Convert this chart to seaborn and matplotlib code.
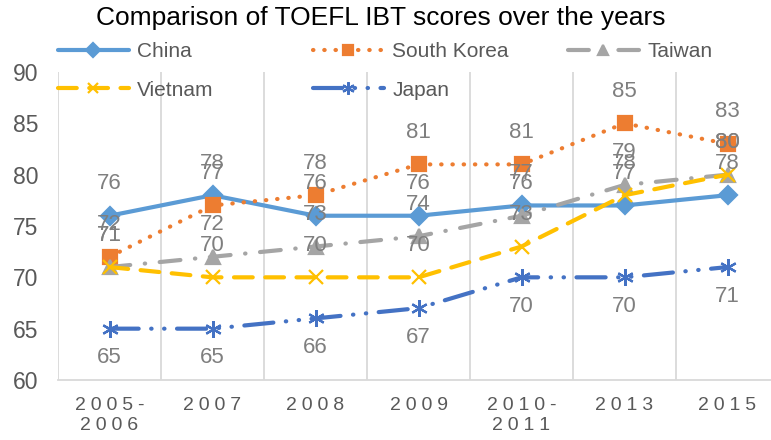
import numpy as np
import pandas as pd
import matplotlib
matplotlib.use("Agg")
import matplotlib.pyplot as plt
import seaborn as sns

# data
years = ["2005-\n2006", "2007", "2008", "2009", "2010-\n2011", "2013", "2015"]
china = [76, 78, 76, 76, 77, 77, 78]
south_korea = [72, 77, 78, 81, 81, 85, 83]
taiwan = [71, 72, 73, 74, 76, 79, 80]
vietnam = [71, 70, 70, 70, 73, 78, 80]
japan = [65, 65, 66, 67, 70, 70, 71]

sns.set_theme(style="white")
plt.rcParams["font.family"] = ["Liberation Sans", "DejaVu Sans"]

pos = np.arange(len(years))

# name, values, color, marker, markersize, linestyle, label offset (pt)
series = [
    ("China", china, "#5B9BD5", "D", 9, "-", 23),
    ("South Korea", south_korea, "#ED7D31", "s", 10, (0, (0.1, 2.6)), 23),
    ("Taiwan", taiwan, "#A5A5A5", "^", 10, (0, (5, 3.5, 0.1, 3.5)), 23),
    ("Vietnam", vietnam, "#FFC000", "x", 10, (0, (4.5, 3)), 23),
    ("Japan", japan, "#4472C4", (6, 2, 0), 12, (0, (7, 3, 0.1, 3, 0.1, 3)), -21),
]

fig = plt.figure(figsize=(7.71, 4.40), dpi=100)
ax = fig.add_axes([58 / 771, 1 - 380 / 440, 721 / 771, 308 / 440])

handles = {}
for name, vals, color, marker, ms, ls, off in series:
    sns.lineplot(x=pos, y=vals, ax=ax, color=color, linewidth=3, linestyle=ls,
                 marker=marker, markersize=ms, markeredgecolor=color,
                 markerfacecolor=color, markeredgewidth=1.6, label=name)
    line = ax.lines[-1]
    line.set_dash_capstyle("round")
    line.set_solid_capstyle("round")
    handles[name] = line
    for x, v in zip(pos, vals):
        ax.annotate(str(v), (x, v), xytext=(0, off), textcoords="offset points",
                    ha="center", va="center", fontsize=16, color="#7F7F7F")

if ax.get_legend() is not None:
    ax.get_legend().remove()

ax.set_xlim(-0.5, 6.5)
ax.set_ylim(60, 90)
ax.set_yticks(range(60, 91, 5))
ax.set_xticks(pos)
# Excel draws the category labels letter-spaced
spaced = ["\u2005".join(list(y)).replace("\u2005\n\u2005", "\n") for y in years]
ax.set_xticklabels(spaced, fontsize=14, color="#595959", linespacing=1.25)
ax.tick_params(axis="y", labelsize=16.5, labelcolor="#595959", length=0, pad=14)
ax.tick_params(axis="x", length=0, pad=12)
ax.set_xticks(np.arange(-0.5, 7, 1), minor=True)
ax.grid(False)
ax.grid(True, which="minor", axis="x", color="#D9D9D9", linewidth=1.3)
ax.set_axisbelow(True)
for side in ["top", "right", "left"]:
    ax.spines[side].set_visible(False)
ax.spines["bottom"].set_color("#D9D9D9")
ax.spines["bottom"].set_linewidth(1.3)
ax.set_xlabel("")
ax.set_ylabel("")

leg_kw = dict(frameon=False, loc="upper left", fontsize=15, handlelength=3.4,
              handletextpad=0.4, labelspacing=0.95, borderaxespad=0, borderpad=0,
              labelcolor="#595959", markerscale=0.75)
fig.legend([handles["China"], handles["Vietnam"]], ["China", "Vietnam"],
           bbox_to_anchor=(58 / 771, 1 - 42 / 440), **leg_kw)
fig.legend([handles["South Korea"], handles["Japan"]], ["South Korea", "Japan"],
           bbox_to_anchor=(313 / 771, 1 - 42 / 440), **leg_kw)
fig.legend([handles["Taiwan"]], ["Taiwan"],
           bbox_to_anchor=(568 / 771, 1 - 42 / 440), **leg_kw)

fig.text(380.5 / 771, 1 - 18 / 440, "Comparison of TOEFL IBT scores over the years",
         ha="center", va="center", fontsize=19, color="#000000")

fig.savefig("out.png", dpi=100)
